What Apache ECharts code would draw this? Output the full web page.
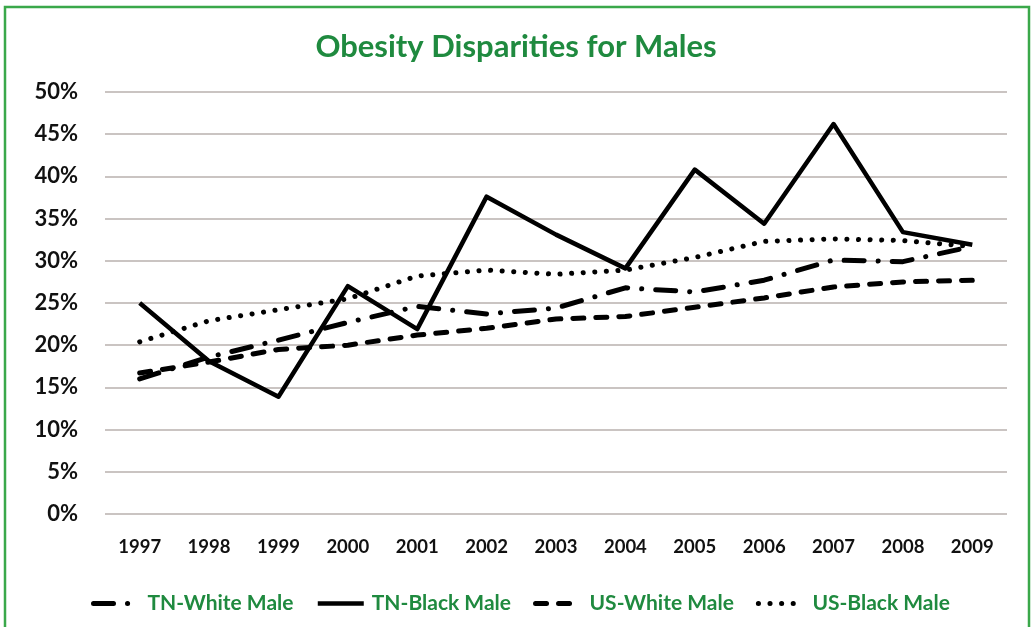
<!DOCTYPE html>
<html>
<head>
<meta charset="utf-8">
<title>Obesity Disparities for Males</title>
<script src="https://cdn.jsdelivr.net/npm/echarts@6/dist/echarts.min.js"></script>
<style>
  html, body { margin: 0; padding: 0; background: #ffffff; }
  #chart { width: 1032px; height: 627px; }
</style>
</head>
<body>
<div id="chart"></div>
<script>
// Survey years on the category axis
const years = ['1997', '1998', '1999', '2000', '2001', '2002', '2003',
               '2004', '2005', '2006', '2007', '2008', '2009'];

// Obesity prevalence among males, in percent
const tnWhiteMale = [16.0, 18.6, 20.6, 22.7, 24.6, 23.7, 24.4, 26.8, 26.3, 27.7, 30.1, 29.9, 31.7];
const tnBlackMale = [25.0, 18.1, 13.9, 27.0, 21.9, 37.6, 33.1, 29.1, 40.8, 34.4, 46.2, 33.4, 31.9];
const usWhiteMale = [16.7, 18.0, 19.5, 20.0, 21.2, 22.0, 23.1, 23.4, 24.5, 25.6, 26.9, 27.5, 27.7];
const usBlackMale = [20.4, 22.9, 24.2, 25.5, 28.2, 28.9, 28.4, 28.9, 30.4, 32.3, 32.6, 32.4, 31.7];

const green = '#1f8a3f';
const font = 'Lato, "Open Sans", sans-serif';

const chart = echarts.init(document.getElementById('chart'), null, { renderer: 'canvas' });

function lineSeries(name, data, width, dash, cap) {
  return {
    name: name,
    type: 'line',
    data: data,
    symbol: 'none',
    showSymbol: false,
    smooth: false,
    lineStyle: { color: '#000000', width: width, type: dash, cap: cap, join: 'round' },
    itemStyle: { color: '#000000' },
    emphasis: { disabled: true }
  };
}

chart.setOption({
  animation: false,
  backgroundColor: '#ffffff',
  title: {
    text: 'Obesity Disparities for Males',
    left: 'center',
    top: 26,
    textStyle: { color: green, fontFamily: font, fontWeight: 'bold', fontSize: 31 }
  },
  graphic: [{
    type: 'rect',
    shape: { x: 5, y: 7, width: 1024, height: 640 },
    style: { fill: 'none', stroke: '#3aa84a', lineWidth: 2.5 },
    silent: true,
    z: 100
  }],
  grid: { left: 105, right: 25, top: 92, bottom: 113, containLabel: false },
  legend: {
    bottom: 8,
    left: 86,
    itemWidth: 46,
    itemHeight: 14,
    itemGap: 22,
    itemStyle: { opacity: 0 },
    lineStyle: { width: 'inherit' },
    textStyle: { color: green, fontFamily: font, fontWeight: 'bold', fontSize: 21, padding: [0, 0, 0, 3] },
    data: ['TN-White Male', 'TN-Black Male', 'US-White Male', 'US-Black Male']
  },
  xAxis: {
    type: 'category',
    data: years,
    boundaryGap: true,
    axisLine: { show: false },
    axisTick: { show: false },
    axisLabel: { color: '#111111', fontFamily: font, fontWeight: 'bold', fontSize: 18.5, margin: 24 }
  },
  yAxis: {
    type: 'value',
    min: 0,
    max: 50,
    interval: 5,
    axisLine: { show: false },
    axisTick: { show: false },
    splitLine: { lineStyle: { color: '#b9b1ae', width: 1.5 } },
    axisLabel: {
      color: '#111111', fontFamily: font, fontWeight: 'bold', fontSize: 22, margin: 27,
      formatter: '{value}%'
    }
  },
  series: [
    lineSeries('TN-White Male', tnWhiteMale, 5, [20, 14, 0.1, 14], 'round'),
    lineSeries('TN-Black Male', tnBlackMale, 4.5, 'solid', 'butt'),
    lineSeries('US-White Male', usWhiteMale, 5, [11, 12], 'round'),
    lineSeries('US-Black Male', usBlackMale, 5, [0.1, 11.5], 'round')
  ]
});
</script>
</body>
</html>
